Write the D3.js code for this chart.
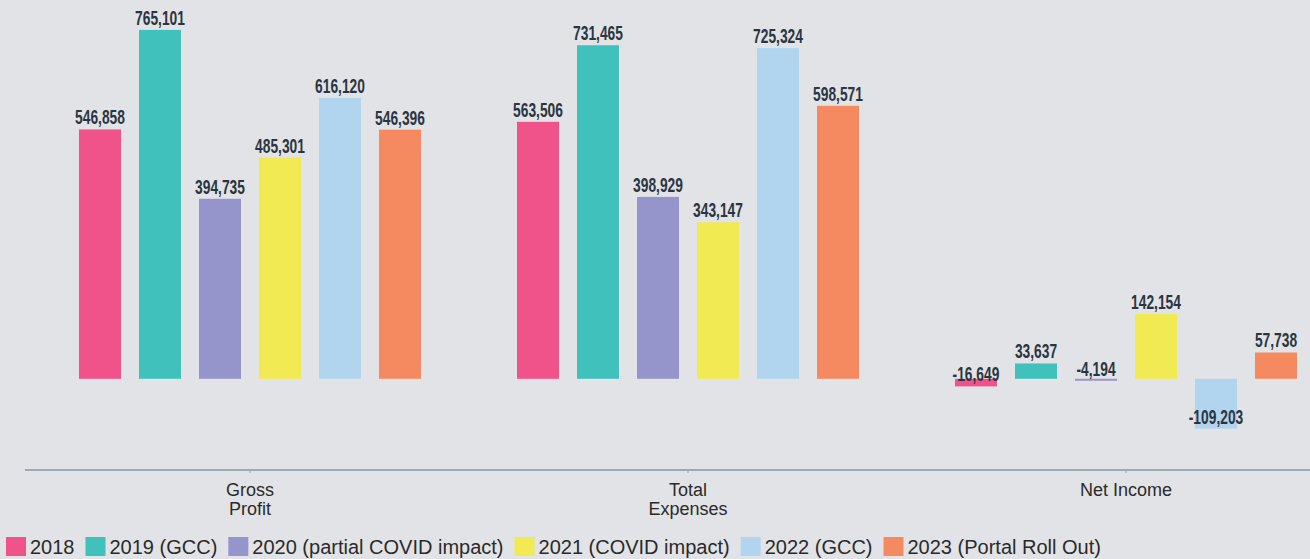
<!DOCTYPE html>
<html>
<head>
<meta charset="utf-8">
<script src="https://cdn.jsdelivr.net/npm/d3@7"></script>
<style>
    body { margin: 0; background: #e2e3e7; }
    svg { display: block; }
</style>
</head>
<body>
<div id="chart"></div>
<script>
// categories on the x axis (each split into its wrapped lines)
var categories = ["Gross Profit", "Total Expenses", "Net Income"];
var categoryLines = [["Gross", "Profit"], ["Total", "Expenses"], ["Net Income"]];

// series (years) and their values per category
var series = ["2018", "2019 (GCC)", "2020 (partial COVID impact)", "2021 (COVID impact)", "2022 (GCC)", "2023 (Portal Roll Out)"];
var colors = ["#f0528a", "#41c1bc", "#9594cb", "#f1ea52", "#b2d5ef", "#f5895f"];
var grossProfit   = [546858, 765101, 394735, 485301, 616120, 546396];
var totalExpenses = [563506, 731465, 398929, 343147, 725324, 598571];
var netIncome     = [-16649, 33637, -4194, 142154, -109203, 57738];

var width = 1310, height = 559;
var values = [grossProfit, totalExpenses, netIncome];

var svg = d3.select("#chart")
    .append("svg")
    .attr("width", width)
    .attr("height", height);

// outer band = category, inner band = year
var x0 = d3.scaleBand()
    .domain(categories)
    .range([31, 1345]);

var x1 = d3.scaleBand()
    .domain(series)
    .range([0, x0.bandwidth()])
    .paddingInner(0.3)
    .paddingOuter(0.8);

var y = d3.scaleLinear()
    .domain([-200000, 800000])
    .range([470, 14]);

// plain hyphen for negatives, like the original
var fmt = d3.formatLocale({decimal: ".", thousands: ",", grouping: [3], currency: ["", ""], minus: "-"}).format(",");

// bars
var groups = svg.selectAll("g.cat")
    .data(categories)
    .enter()
    .append("g")
    .attr("class", "cat")
    .attr("transform", function (d) { return "translate(" + x0(d) + ",0)"; });

groups.selectAll("rect")
    .data(function (d, i) {
        return series.map(function (s, j) { return {s: s, v: values[i][j], c: colors[j]}; });
    })
    .enter()
    .append("rect")
    .attr("x", function (d) { return x1(d.s); })
    .attr("y", function (d) { return y(Math.max(0, d.v)); })
    .attr("width", x1.bandwidth())
    .attr("height", function (d) { return Math.max(1.5, Math.abs(y(d.v) - y(0))); })
    .attr("fill", function (d) { return d.c; });

// value labels, always sitting just above the value end of the bar
groups.selectAll("text.val")
    .data(function (d, i) {
        return series.map(function (s, j) { return {s: s, v: values[i][j]}; });
    })
    .enter()
    .append("text")
    .attr("class", "val")
    .attr("transform", function (d) {
        return "translate(" + (x1(d.s) + x1.bandwidth() / 2) + "," + (y(d.v) - 5) + ") scale(0.69,1)";
    })
    .attr("text-anchor", "middle")
    .style("font-family", "'Liberation Sans', Arial, sans-serif")
    .style("font-weight", "bold")
    .style("font-size", "20px")
    .style("fill", "#2b3540")
    .text(function (d) { return fmt(d.v); });

// x axis
var xAxis = svg.append("g")
    .attr("transform", "translate(0,470)")
    .call(d3.axisBottom(x0).tickSize(3).tickSizeOuter(0).tickFormat(""));

xAxis.select(".domain").remove();
xAxis.selectAll(".tick line").attr("stroke", "#8f9aa8");

svg.append("line")
    .attr("x1", 25)
    .attr("x2", width)
    .attr("y1", 470)
    .attr("y2", 470)
    .attr("stroke", "#9ea8b6")
    .attr("stroke-width", 2);

xAxis.selectAll(".tick")
    .each(function (d, i) {
        var t = d3.select(this).append("text")
            .attr("text-anchor", "middle")
            .style("font-family", "'Liberation Sans', Arial, sans-serif")
            .style("font-size", "18px")
            .style("fill", "#2a2a2a");
        categoryLines[i].forEach(function (line, k) {
            t.append("tspan")
                .attr("x", 0)
                .attr("y", 26 + k * 19)
                .text(line);
        });
    });

// legend
var legend = svg.append("g").attr("transform", "translate(6,537)");
var lx = 0;
series.forEach(function (s, i) {
    var item = legend.append("g").attr("transform", "translate(" + lx + ",0)");
    item.append("rect")
        .attr("width", 20)
        .attr("height", 19)
        .attr("fill", colors[i]);
    var t = item.append("text")
        .attr("x", 24)
        .attr("y", 17)
        .style("font-family", "'Liberation Sans', Arial, sans-serif")
        .style("font-size", "20px")
        .style("fill", "#2a2a2a")
        .text(s);
    lx += 24 + t.node().getComputedTextLength() + 11;
});
</script>
</body>
</html>
